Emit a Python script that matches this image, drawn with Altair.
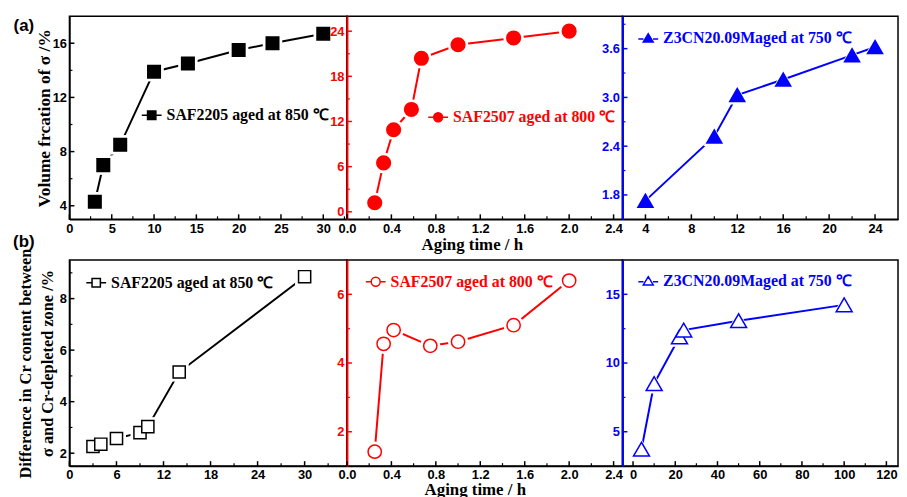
import math
import altair as alt
import pandas as pd

# ---------------- data ----------------
# (a) volume fraction of sigma phase
saf2205_vf_t = [3, 4, 6, 10, 14, 20, 24, 30]
saf2205_vf = [4.3, 7.0, 8.5, 13.9, 14.5, 15.5, 16.0, 16.7]
saf2507_vf_t = [0.25, 0.33, 0.42, 0.58, 0.67, 1.0, 1.5, 2.0]
saf2507_vf = [1.2, 6.5, 10.9, 13.6, 20.4, 22.2, 23.1, 24.0]
z3cn_vf_t = [4, 10, 12, 16, 22, 24]
z3cn_vf = [1.73, 2.52, 3.03, 3.22, 3.52, 3.62]
# (b) difference in Cr content between sigma and Cr-depleted zone
saf2205_cr_t = [3, 4, 6, 9, 10, 14, 30]
saf2205_cr = [2.26, 2.35, 2.57, 2.8, 3.03, 5.15, 8.85]
saf2507_cr_t = [0.25, 0.33, 0.42, 0.75, 1.0, 1.5, 2.0]
saf2507_cr = [1.42, 4.56, 4.96, 4.5, 4.62, 5.1, 6.4]
z3cn_cr_t = [4, 10, 22, 24, 50, 100]
z3cn_cr = [3.73, 8.5, 11.9, 12.4, 13.08, 14.23]

series_names = ["SAF2205 aged at 850 ℃", "SAF2507 aged at 800 ℃", "Z3CN20.09Maged at 750 ℃"]
series_colors = ["#000000", "#ff0000", "#0000ff"]
panel_letters = ["(a)", "(b)"]
y_title_a = "Volume frcation of σ /%"
y_title_b = ["Difference in Cr content between", "σ and Cr-depleted zone /%"]
x_title = "Aging time / h"

# axis ticks
t1_xt = [0, 5, 10, 15, 20, 25, 30]; t1_xm = [2.5, 7.5, 12.5, 17.5, 22.5, 27.5, 32.5]
t1_yt = [4, 8, 12, 16]; t1_ym = [6, 10, 14]
t2_xt = [0.0, 0.4, 0.8, 1.2, 1.6, 2.0, 2.4]; t2_xm = [0.2, 0.6, 1.0, 1.4, 1.8, 2.2]
t2_yt = [0, 6, 12, 18, 24]; t2_ym = [3, 9, 15, 21]
t3_xt = [4, 8, 12, 16, 20, 24]; t3_xm = [6, 10, 14, 18, 22]
t3_yt = [1.8, 2.4, 3.0, 3.6]; t3_ym = [2.1, 2.7, 3.3, 3.9]
b1_xt = [0, 6, 12, 18, 24, 30]; b1_xm = [3, 9, 15, 21, 27, 33]
b1_yt = [2, 4, 6, 8]; b1_ym = [3, 5, 7, 9]
b2_xt = [0.0, 0.4, 0.8, 1.2, 1.6, 2.0, 2.4]; b2_xm = [0.2, 0.6, 1.0, 1.4, 1.8, 2.2]
b2_yt = [2, 4, 6]; b2_ym = [3, 5]
b3_xt = [0, 20, 40, 60, 80, 100, 120]; b3_xm = [10, 30, 50, 70, 90, 110]
b3_yt = [5, 10, 15]; b3_ym = [7.5, 12.5]

SANS = "Liberation Sans"
SERIF = "Liberation Serif"

SYM = {
    "square": "M-1,0H-0.42M0.42,0H1M-0.42,-0.42H0.42V0.42H-0.42Z",
    "circle": "M-1,0H-0.45M0.45,0H1M-0.45,0A0.45,0.45,0,1,1,0.45,0A0.45,0.45,0,1,1,-0.45,0Z",
    "triangle-up": "M-1,0.1H-0.48M0.48,0.1H1M0,-0.42L0.5,0.42H-0.5Z",
}


def panel(xs, ys, name, color, shape, filled, size, xdom, ydom, xt, xm, yt, ym,
          w, h, xfmt, yfmt, leg_x, leg_y, ydomw=2, ytitle=None, ytitle_x=-24, ytitle_size=17,
          xtitle=None, xtitle_x=0, xtitle_y=0, letter=None, letter_y=0):
    df = pd.DataFrame({"x": xs, "y": ys, "s": [name] * len(xs)})
    xsc = alt.Scale(domain=xdom, nice=False, zero=False)
    ysc = alt.Scale(domain=ydom, nice=False, zero=False)
    xa = dict(values=xt, format=xfmt, labelFont=SANS, labelFontSize=13, labelFontWeight="bold",
              labelColor="black", labelPadding=3, labelFlush=False, labelOverlap=False,
              ticks=False, tickSize=0, grid=False, domainColor="black", domainWidth=1.5)
    if xtitle:
        xa.update(title=xtitle, titleFont=SERIF, titleFontSize=17, titleFontWeight="bold",
                  titleColor="black", titleX=xtitle_x, titleY=xtitle_y, titleAlign="center",
                  titleBaseline="alphabetic", titleAnchor="start")
    else:
        xa.update(title="")
    ya = dict(values=yt, format=yfmt, labelFont=SANS, labelFontSize=13, labelFontWeight="bold",
              labelColor=color, labelPadding=3, labelOverlap=False, ticks=False, tickSize=0,
              grid=False, domainColor=color, domainWidth=ydomw, orient="left")
    if ytitle:
        ya.update(title=ytitle, titleFont=SERIF, titleFontSize=ytitle_size, titleFontWeight="bold",
                  titleColor="black", titleX=ytitle_x, titleY=h / 2, titleAngle=-90,
                  titleAlign="center", titleBaseline="middle", titleLineHeight=22,
                  titleAnchor="start")
    else:
        ya.update(title="")
    X = alt.X("x:Q", scale=xsc, axis=alt.Axis(**xa))
    Y = alt.Y("y:Q", scale=ysc, axis=alt.Axis(**ya))

    base = alt.Chart(df)
    line = base.mark_line(color=color, strokeWidth=2).encode(x=X, y=Y)
    halo_size = (math.sqrt(size) + 7) ** 2
    halo = base.mark_point(shape=shape, filled=True, color="white", opacity=1,
                           size=halo_size).encode(x=X, y=Y)
    pts = base.mark_point(shape=shape, filled=filled, fill=color if filled else "white",
                          stroke=color, strokeWidth=1.5, opacity=1, size=size).encode(
        x=X, y=Y,
        color=alt.Color("s:N", scale=alt.Scale(domain=[name], range=[color]),
                        legend=alt.Legend(orient="none", legendX=leg_x, legendY=leg_y, title=None,
                                          symbolType=SYM[shape], symbolSize=400,
                                          symbolStrokeWidth=1.5, labelFont=SERIF,
                                          labelFontSize=16, labelFontWeight="bold",
                                          labelColor=color, labelOffset=4, padding=0,
                                          labelLimit=400)))
    xtk = alt.Chart(pd.DataFrame({"x": xt})).mark_tick(
        orient="vertical", size=5, thickness=1.5, color="black", opacity=1).encode(
        x=X, y=alt.value(h - 2.5))
    xmk = alt.Chart(pd.DataFrame({"x": xm})).mark_tick(
        orient="vertical", size=3, thickness=1.2, color="black", opacity=1).encode(
        x=X, y=alt.value(h - 1.5))
    ytk = alt.Chart(pd.DataFrame({"y": yt})).mark_tick(
        orient="horizontal", size=5, thickness=1.5, color=color, opacity=1).encode(
        y=Y, x=alt.value(2.5))
    ymk = alt.Chart(pd.DataFrame({"y": ym})).mark_tick(
        orient="horizontal", size=3, thickness=1.2, color=color, opacity=1).encode(
        y=Y, x=alt.value(1.5))
    layers = [line, halo, pts, xtk, xmk, ytk, ymk]
    if letter:
        lab = alt.Chart(pd.DataFrame({"t": [letter]})).mark_text(
            font=SANS, fontSize=17, fontWeight="bold", color="black", align="center",
            baseline="middle").encode(text="t:N", x=alt.value(-46), y=alt.value(letter_y))
        layers.append(lab)
    return alt.layer(*layers).properties(width=w, height=h)


W1, W2, W3 = 280, 278, 278
HT, HB = 205, 208
sq, ci, tr = "square", "circle", "triangle-up"

p1 = panel(saf2205_vf_t, saf2205_vf, series_names[0], series_colors[0], sq, True, 160,
           [0, 32.8], [3, 18], t1_xt, t1_xm, t1_yt, t1_ym, W1, HT, "d", "d", 72, 89,
           ydomw=1.5, ytitle=y_title_a, ytitle_x=-25, ytitle_size=17.5,
           letter=panel_letters[0], letter_y=10)
p2 = panel(saf2507_vf_t, saf2507_vf, series_names[1], series_colors[1], ci, True, 190,
           [0, 2.48], [-1, 26], t2_xt, t2_xm, t2_yt, t2_ym, W2, HT, ".1f", "d", 81, 91,
           xtitle=x_title, xtitle_x=126, xtitle_y=30)
p3 = panel(z3cn_vf_t, z3cn_vf, series_names[2], series_colors[2], tr, True, 230,
           [2, 26], [1.5, 4.0], t3_xt, t3_xm, t3_yt, t3_ym, W3, HT, "d", ".1f", 15, 11)
q1 = panel(saf2205_cr_t, saf2205_cr, series_names[0], series_colors[0], sq, False, 150,
           [0, 35.4], [1.5, 9.5], b1_xt, b1_xm, b1_yt, b1_ym, W1, HB, "d", "d", 16, 12,
           ydomw=1.5, ytitle=y_title_b, ytitle_x=-44, ytitle_size=16.5,
           letter=panel_letters[1], letter_y=-18)
q2 = panel(saf2507_cr_t, saf2507_cr, series_names[1], series_colors[1], ci, False, 180,
           [0, 2.48], [1, 7], b2_xt, b2_xm, b2_yt, b2_ym, W2, HB, ".1f", "d", 18, 11,
           xtitle=x_title, xtitle_x=129, xtitle_y=29)
q3 = panel(z3cn_cr_t, z3cn_cr, series_names[2], series_colors[2], tr, False, 260,
           [-5, 125.5], [2.5, 17.5], b3_xt, b3_xm, b3_yt, b3_ym, W3, HB, "d", "d", 15, 10)

chart = alt.concat(p1, p2, p3, q1, q2, q3, columns=3, bounds="flush",
                   spacing={"row": 41, "column": 0}).resolve_scale(
    x="independent", y="independent", color="independent").resolve_legend(
    color="independent").configure_view(stroke="black", strokeWidth=1.5).properties(
    padding={"left": 4, "top": 5, "right": 0, "bottom": 0}, background="white")

chart.save("out.html", embed_options={"renderer": "svg", "actions": False})
